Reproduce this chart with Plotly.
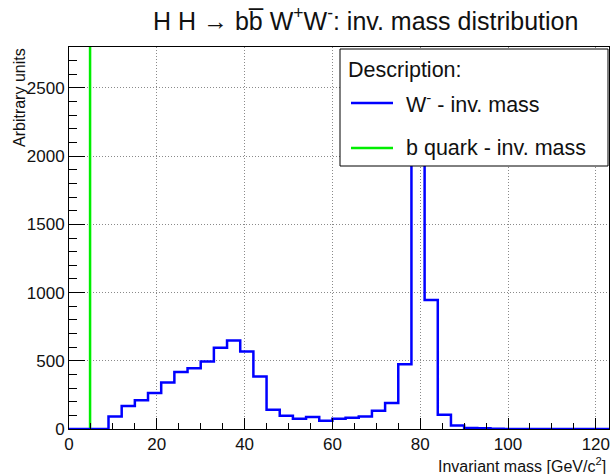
import plotly.graph_objects as go

# W- invariant mass histogram: 41 bins of width 3 GeV/c^2 from 0 to 123
bin_width = 3
n_bins = 41
w_counts = [
    0, 0, 0, 92, 168, 210, 263, 341, 417, 446, 495, 595, 648, 568, 385, 141,
    97, 75, 88, 61, 75, 83, 92, 134, 190, 475, 2667, 946, 105, 26, 8, 5, 1,
    0, 0, 0, 0, 0, 0, 0, 0,
]

# b quark invariant mass: a single sharp spike (entries exceed the frame)
b_mass = 4.8
b_entries = 20000

x_ticks = [0, 20, 40, 60, 80, 100, 120]
y_ticks = [0, 500, 1000, 1500, 2000, 2500]

x_max = bin_width * n_bins
y_max = 2800

edges = [i * bin_width for i in range(n_bins + 1)]
step_x = edges
step_y = w_counts + [w_counts[-1]]

FONT = "Liberation Sans, Arial, sans-serif"
TXT = "#111111"
BLUE = "#0000ff"
GREEN = "#00ee00"

# frame geometry in pixels
W, H = 611, 474
L, R, T, B = 69, 2, 47, 45
PW, PH = W - L - R, H - T - B


def px(pix):
    return (pix - L) / PW


def py(pix):
    return (H - B - pix) / PH


fig = go.Figure()
fig.add_trace(go.Scatter(
    x=[b_mass, b_mass], y=[0, b_entries], mode="lines",
    line=dict(color=GREEN, width=2.5), showlegend=False, hoverinfo="skip",
))
fig.add_trace(go.Scatter(
    x=step_x, y=step_y, mode="lines", line_shape="hv",
    line=dict(color=BLUE, width=2.5), showlegend=False,
))

axis_common = dict(
    showline=True, linecolor="black", linewidth=1, mirror=True,
    ticks="inside", tickcolor="black", tickwidth=1,
    showgrid=True, gridcolor="#8a8a8a", griddash="1px,2px", gridwidth=1,
    zeroline=False,
    tickfont=dict(family=FONT, size=17, color=TXT),
)

fig.update_xaxes(
    range=[0, x_max], tickvals=x_ticks, ticklen=11,
    minor=dict(dtick=5, ticklen=6, ticks="inside", tickcolor="black", showgrid=False),
    **axis_common,
)
fig.update_yaxes(
    range=[0, y_max], tickvals=y_ticks, ticklen=16,
    minor=dict(dtick=100, ticklen=8, ticks="inside", tickcolor="black", showgrid=False),
    **axis_common,
)

annotations = [
    dict(text="H H \u2192 bb\u0305 W<sup>+</sup>W<sup>-</sup>: inv. mass distribution",
         xref="paper", yref="paper", x=px(365), y=py(19),
         xanchor="center", yanchor="middle", showarrow=False,
         font=dict(family=FONT, size=25, color=TXT)),
    dict(text="Invariant mass [GeV/c<sup>2</sup>]", xref="paper", yref="paper",
         x=px(608), y=py(465), xanchor="right", yanchor="middle",
         showarrow=False, font=dict(family=FONT, size=16, color=TXT)),
    dict(text="Arbitrary units", xref="paper", yref="paper",
         x=px(20), y=py(98), xanchor="center", yanchor="middle",
         textangle=-90, showarrow=False,
         font=dict(family=FONT, size=16, color=TXT)),
]

# legend box
shapes = [
    dict(type="rect", xref="paper", yref="paper", x0=px(340), x1=px(608),
         y0=py(166), y1=py(49),
         line=dict(color="black", width=1), fillcolor="white", layer="above"),
    dict(type="line", xref="paper", yref="paper", x0=px(351), x1=px(393),
         y0=py(103), y1=py(103), line=dict(color=BLUE, width=2.5), layer="above"),
    dict(type="line", xref="paper", yref="paper", x0=px(351), x1=px(393),
         y0=py(148), y1=py(148), line=dict(color=GREEN, width=2.5), layer="above"),
]

annotations += [
    dict(text="Description:", xref="paper", yref="paper", x=px(346), y=py(70),
         xanchor="left", yanchor="middle", showarrow=False,
         font=dict(family=FONT, size=21.5, color=TXT)),
    dict(text="W<sup>-</sup> - inv. mass", xref="paper", yref="paper", x=px(404), y=py(103),
         xanchor="left", yanchor="middle", showarrow=False,
         font=dict(family=FONT, size=21.5, color=TXT)),
    dict(text="b quark - inv. mass", xref="paper", yref="paper", x=px(404), y=py(148),
         xanchor="left", yanchor="middle", showarrow=False,
         font=dict(family=FONT, size=21.5, color=TXT)),
]

fig.update_layout(
    width=W, height=H,
    margin=dict(l=L, r=R, t=T, b=B),
    plot_bgcolor="white", paper_bgcolor="white",
    showlegend=False,
    annotations=annotations, shapes=shapes,
)

fig.write_html("out.html")
